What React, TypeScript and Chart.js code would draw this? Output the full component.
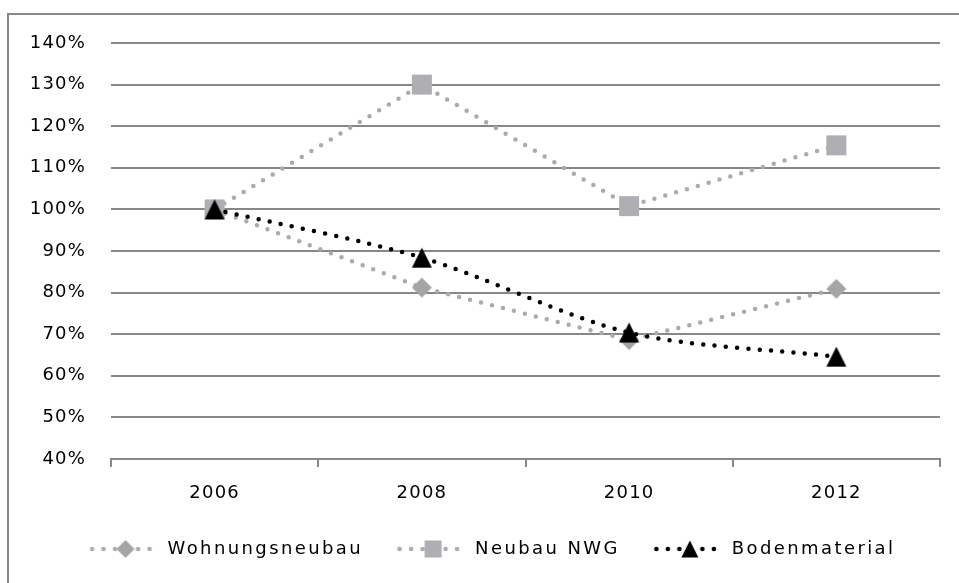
import React, { useEffect, useRef } from 'react';
import { Chart, registerables } from 'chart.js';

Chart.register(...registerables);

// ---- data ----
const years = ['2006', '2008', '2010', '2012'];
const seriesLabels = ['Wohnungsneubau', 'Neubau NWG', 'Bodenmaterial'];
const wohnungsneubau = [100, 81.2, 68.6, 80.9];
const neubauNWG = [100, 130, 100.8, 115.4];
const bodenmaterial = [100, 88.4, 70.4, 64.6];
const yMin = 40;
const yMax = 140;
const yStep = 10;

// ---- styles ----
const FONT = 'DejaVu Sans';
const FONT_SIZE = 18;
const LEGEND_LS = '2.4px';
const TICK_LS = '1.2px';
const AXIS = '#878787';
const DOT_GRAY = '#ABABAD';
const DIAMOND_GRAY = '#A5A5A5';
const SQUARE_GRAY = '#AFAFB3';
const BLACK = '#000000';
const LEGEND_SHIFT = 20;

type Shape = 'diamond' | 'square' | 'triangle';

function drawShape(ctx: CanvasRenderingContext2D, shape: Shape, cx: number, cy: number, size: number, color: string) {
  const h = size / 2;
  ctx.fillStyle = color;
  ctx.beginPath();
  if (shape === 'diamond') {
    ctx.moveTo(cx, cy - h);
    ctx.lineTo(cx + h, cy);
    ctx.lineTo(cx, cy + h);
    ctx.lineTo(cx - h, cy);
  } else if (shape === 'square') {
    ctx.rect(cx - h, cy - h, size, size);
  } else {
    ctx.moveTo(cx, cy - h);
    ctx.lineTo(cx + h, cy + h);
    ctx.lineTo(cx - h, cy + h);
  }
  ctx.closePath();
  ctx.fill();
}

function markerCanvas(shape: Shape, size: number, color: string) {
  const c = document.createElement('canvas');
  c.width = size + 2;
  c.height = size + 2;
  const ctx = c.getContext('2d')!;
  drawShape(ctx, shape, c.width / 2, c.height / 2, size, color);
  return c;
}

function legendCanvas(shape: Shape, size: number, dotColor: string, markerColor: string) {
  const c = document.createElement('canvas');
  c.width = 64;
  c.height = 22;
  const ctx = c.getContext('2d')!;
  ctx.fillStyle = dotColor;
  [2.5, 14, 25.5, 37, 48.5, 60].forEach((x) => {
    ctx.beginPath();
    ctx.arc(x, 11, 2.3, 0, Math.PI * 2);
    ctx.fill();
  });
  drawShape(ctx, shape, 36, 11, size, markerColor);
  return c;
}

const spacingPlugin = {
  id: 'letterSpacing',
  beforeUpdate(chart: any) {
    chart.ctx.letterSpacing = LEGEND_LS;
  },
  afterLayout(chart: any) {
    if (chart.legend) {
      chart.legend.left += LEGEND_SHIFT;
      chart.legend.right += LEGEND_SHIFT;
    }
    ['x', 'y'].forEach((id) => {
      const s = chart.scales[id];
      if (s && !s._lsWrapped) {
        const orig = s.drawLabels.bind(s);
        s.drawLabels = (area: any) => {
          const ctx = chart.ctx;
          const prev = ctx.letterSpacing;
          ctx.letterSpacing = TICK_LS;
          orig(area);
          ctx.letterSpacing = prev;
        };
        s._lsWrapped = true;
      }
    });
  },
  beforeDraw(chart: any) {
    chart.ctx.letterSpacing = LEGEND_LS;
  },
};

export default function App() {
  const ref = useRef<HTMLCanvasElement | null>(null);

  useEffect(() => {
    if (!ref.current) return;
    const shapes: Shape[] = ['diamond', 'square', 'triangle'];
    const markerColors = [DIAMOND_GRAY, SQUARE_GRAY, BLACK];
    const lineColors = [DOT_GRAY, DOT_GRAY, BLACK];
    const tensions = [0, 0, 0.3];
    const values = [wohnungsneubau, neubauNWG, bodenmaterial];
    const points = shapes.map((s, i) => markerCanvas(s, 20, markerColors[i]));
    const legendImgs = shapes.map((s, i) => legendCanvas(s, i === 0 ? 18 : 17, lineColors[i], markerColors[i]));

    const chart = new Chart(ref.current, {
      type: 'line',
      data: {
        labels: years,
        datasets: values.map((data, i) => ({
          label: seriesLabels[i],
          data,
          borderColor: lineColors[i],
          backgroundColor: markerColors[i],
          borderWidth: 4.5,
          borderDash: [0, 11.3],
          borderCapStyle: 'round' as const,
          pointStyle: points[i] as any,
          pointRadius: 10,
          pointHoverRadius: 10,
          tension: tensions[i],
          fill: false,
          order: 3 - i,
        })),
      },
      options: {
        animation: false,
        responsive: false,
        devicePixelRatio: 1,
        layout: { padding: { left: 0, right: 19, top: 43, bottom: 15 } },
        plugins: {
          tooltip: { enabled: false },
          legend: {
            position: 'bottom',
            labels: {
              usePointStyle: true,
              pointStyleWidth: 74,
              padding: 29,
              color: '#000',
              font: { family: FONT, size: FONT_SIZE },
              generateLabels: (ch: any) =>
                ch.data.datasets.map((ds: any, i: number) => ({
                  text: ds.label,
                  pointStyle: legendImgs[i],
                  datasetIndex: i,
                  hidden: false,
                  lineWidth: 0,
                  strokeStyle: 'rgba(0,0,0,0)',
                  fillStyle: 'rgba(0,0,0,0)',
                  fontColor: '#000',
                })),
            },
          },
        },
        scales: {
          x: {
            type: 'category',
            offset: true,
            grid: {
              offset: true,
              drawOnChartArea: false,
              drawTicks: true,
              tickLength: 8,
              color: AXIS,
              lineWidth: 2,
            },
            border: { display: true, color: AXIS, width: 2 },
            ticks: { padding: 16, color: '#000', font: { family: FONT, size: FONT_SIZE } },
            afterFit: (s: any) => {
              s.height = 52;
            },
          },
          y: {
            min: yMin,
            max: yMax,
            grid: { color: AXIS, lineWidth: 2, drawTicks: false },
            border: { display: false },
            ticks: {
              stepSize: yStep,
              padding: 25,
              color: '#000',
              font: { family: FONT, size: FONT_SIZE },
              callback: (v: any) => v + '%',
            },
            afterFit: (s: any) => {
              s.width = 111;
            },
          },
        },
      },
      plugins: [spacingPlugin],
    });
    return () => chart.destroy();
  }, []);

  return (
    <div style={{ position: 'fixed', left: 0, top: 0, width: 959, height: 583, overflow: 'hidden', background: '#fff' }}>
      <div
        style={{
          position: 'absolute',
          left: 7,
          top: 13,
          width: 1200,
          height: 1200,
          borderLeft: '2px solid ' + AXIS,
          borderTop: '2px solid ' + AXIS,
        }}
      />
      <canvas ref={ref} width={959} height={583} style={{ position: 'absolute', left: 0, top: 0, width: 959, height: 583 }} />
    </div>
  );
}
